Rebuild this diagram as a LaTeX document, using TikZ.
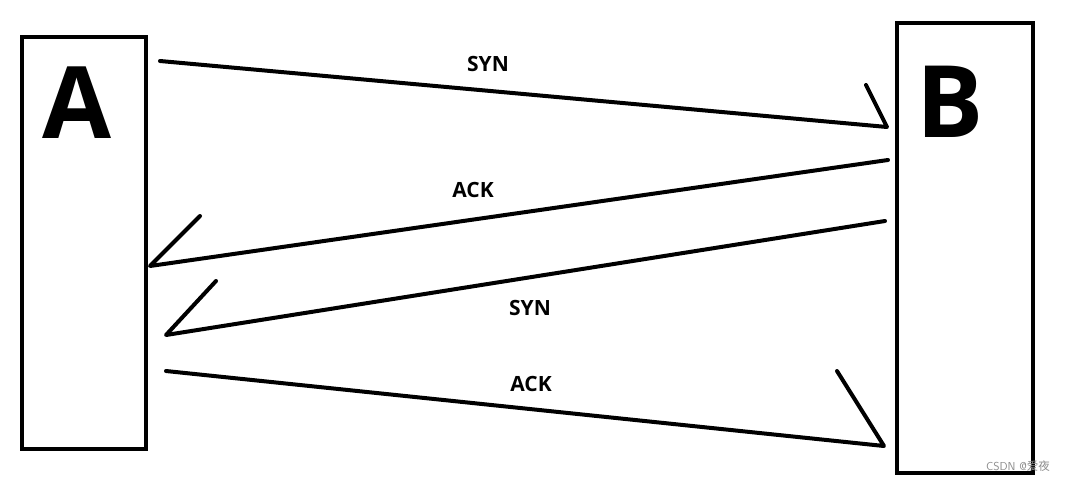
\documentclass[tikz,border=0pt]{standalone}
\usepackage{fontspec}
\setmainfont{Open Sans}
\newfontfamily\cjk{Noto Sans CJK SC}
\begin{document}
\begin{tikzpicture}[x=1pt,y=-1pt,
  boxst/.style={draw=black,line width=4pt},
  big/.style={font=\fontsize{100}{100}\selectfont\bfseries,inner sep=0pt},
  lab/.style={font=\fontsize{21}{21}\selectfont\bfseries,inner sep=0pt},
  msg/.style={line width=4pt,line cap=round,line join=round}]
\useasboundingbox[fill=white] (0,0) rectangle (1068,482);
\draw[boxst] (22,37) rectangle (146,449);
\draw[boxst] (897,23) rectangle (1033,473);
\node[big] (A) at (77,103) {A};
\node[big] (B) at (950,102) {B};
% message end points
\coordinate (s1) at (160,61);
\coordinate (e1) at (887,127);
\coordinate (b1) at (866,85);
\coordinate (s2) at (888,160);
\coordinate (e2) at (150,266);
\coordinate (b2) at (200,216);
\coordinate (s3) at (885,221);
\coordinate (e3) at (166,335);
\coordinate (b3) at (216,281);
\coordinate (s4) at (166,371);
\coordinate (e4) at (884,446);
\coordinate (b4) at (837,371);
\draw[msg] (s1) -- (e1) -- (b1);
\draw[msg] (s2) -- (e2) -- (b2);
\draw[msg] (s3) -- (e3) -- (b3);
\draw[msg] (s4) -- (e4) -- (b4);
\node[lab] (l1) at (488,64) {SYN};
\node[lab] (l2) at (473,190) {ACK};
\node[lab] (l3) at (530,308) {SYN};
\node[lab] (l4) at (531,384) {ACK};
\node[font=\fontsize{11.5}{11.5}\selectfont\sffamily,text=black!45,inner sep=0pt] (wm) at (1018,466) {CSDN @{\cjk 爱夜}};
\end{tikzpicture}
\end{document}
